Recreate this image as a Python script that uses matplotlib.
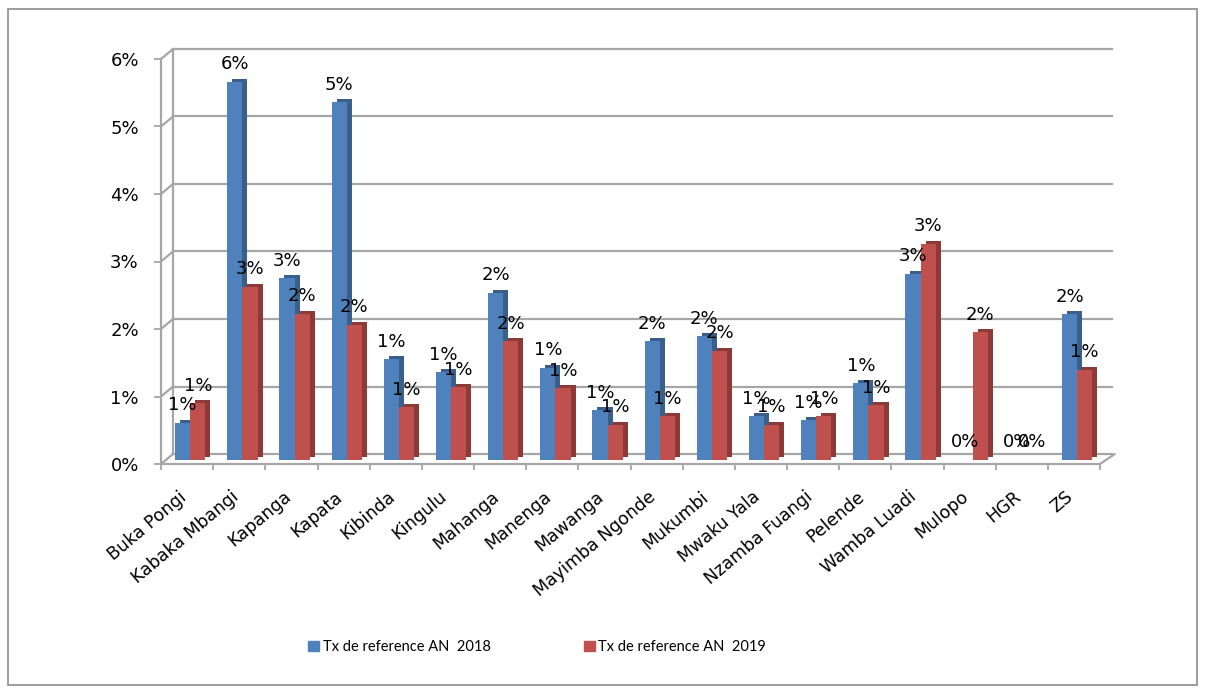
import matplotlib
matplotlib.use('Agg')
import matplotlib.pyplot as plt
import matplotlib.transforms as mtransforms
from matplotlib.patches import Patch, Rectangle
from matplotlib.ticker import PercentFormatter
import numpy as np

plt.rcParams['font.family'] = ['DejaVu Sans']

categories = ['Buka Pongi', 'Kabaka Mbangi', 'Kapanga', 'Kapata', 'Kibinda', 'Kingulu',
              'Mahanga', 'Manenga', 'Mawanga', 'Mayimba Ngonde', 'Mukumbi', 'Mwaku Yala',
              'Nzamba Fuangi', 'Pelende', 'Wamba Luadi', 'Mulopo', 'HGR', 'ZS']
tx_2018 = [0.0055, 0.0560, 0.0269, 0.0530, 0.0149, 0.0130, 0.0248, 0.0137, 0.0074,
           0.0176, 0.0183, 0.0065, 0.0059, 0.0114, 0.0276, 0.0, 0.0, 0.0216]
tx_2019 = [0.0084, 0.0257, 0.0217, 0.0200, 0.0078, 0.0108, 0.0176, 0.0106, 0.0052,
           0.0065, 0.0162, 0.0052, 0.0065, 0.0081, 0.0320, 0.0189, 0.0, 0.0134]
series_labels = ['Tx de reference AN  2018', 'Tx de reference AN  2019']
y_ticks = [0.0, 0.01, 0.02, 0.03, 0.04, 0.05, 0.06]

BLUE, BLUE_SIDE = '#4F81BD', '#3A5F8B'
RED, RED_SIDE = '#C0504D', '#8B3A38'
GRID = '#A6A6A6'

W, H = 1205, 693
fig = plt.figure(figsize=(W / 100, H / 100), dpi=100)
ax = fig.add_axes([161 / W, 1 - 464 / H, 939 / W, 405 / H])
n = len(categories)
ax.set_xlim(-0.5, n - 0.5)
ax.set_ylim(0, 0.06)
for s in ax.spines.values():
    s.set_visible(False)
ax.patch.set_visible(False)


def off(dx, dy):
    return ax.transData + mtransforms.ScaledTranslation(dx / 100, dy / 100, fig.dpi_scale_trans)


BDX, BDY = 12, 10  # back-wall depth in px
for t in y_ticks:
    ax.plot([-0.5, n - 0.5], [t, t], transform=off(BDX, BDY), color=GRID, lw=1.6,
            clip_on=False, zorder=0)
    ax.annotate('', xy=(-0.5, t), xytext=(BDX * 0.72, BDY * 0.72), textcoords='offset points',
                arrowprops=dict(arrowstyle='-', color=GRID, lw=1.6, shrinkA=0, shrinkB=0),
                annotation_clip=False, zorder=0)
ax.plot([-0.5, -0.5], [0, 0.06], color=GRID, lw=1.6, clip_on=False, zorder=0)
ax.plot([-0.5, -0.5], [0, 0.06], transform=off(BDX, BDY), color=GRID, lw=1.6,
        clip_on=False, zorder=0)
ax.plot([-0.5, n - 0.5], [0, 0], color=GRID, lw=1.6, clip_on=False, zorder=1)
ax.annotate('', xy=(n - 0.5, 0), xytext=(BDX * 0.72 + 2, BDY * 0.72), textcoords='offset points',
            arrowprops=dict(arrowstyle='-', color=GRID, lw=1.6, shrinkA=0, shrinkB=0),
            annotation_clip=False, zorder=1)

x = np.arange(n)
w = 0.29
xb = x - 0.085
xr = x + 0.205
PLANE_DY = 4          # bars stand mid-depth on the floor
DDX, DDY = 5, 3       # bar depth
ax.bar(xb, tx_2018, w, color=BLUE_SIDE, transform=off(DDX, PLANE_DY + DDY), zorder=2)
ax.bar(xr, tx_2019, w, color=RED_SIDE, transform=off(DDX, PLANE_DY + DDY), zorder=2)
ax.bar(xb, tx_2018, w, color=BLUE, transform=off(0, PLANE_DY), zorder=3)
ax.bar(xr, tx_2019, w, color=RED, transform=off(0, PLANE_DY), zorder=3)

for xs, vals in ((xb, tx_2018), (xr, tx_2019)):
    for xi, v in zip(xs, vals):
        ax.annotate(f'{v:.0%}', (xi, v), xytext=(0, 15.5), textcoords='offset points',
                    ha='center', va='center', fontsize=13, color='black', zorder=5,
                    annotation_clip=False)

ax.set_yticks(y_ticks)
ax.yaxis.set_major_formatter(PercentFormatter(1.0, decimals=0))
ax.tick_params(axis='y', length=5, width=1.3, color=GRID, pad=11, labelsize=13)

ax.set_xticks(x)
ax.set_xticklabels(categories, rotation=40, ha='right', va='center', rotation_mode='anchor',
                   fontsize=12.5)
ax.tick_params(axis='x', which='major', length=0, pad=22)
ax.set_xticks(np.arange(n + 1) - 0.5, minor=True)
ax.tick_params(axis='x', which='minor', length=4.5, width=1.3, color=GRID)
for lbl in ax.get_xticklabels():
    lbl.set_transform(lbl.get_transform() + mtransforms.ScaledTranslation(-3 / 100, 0, fig.dpi_scale_trans))

fig.legend(handles=[Patch(color=BLUE), Patch(color=RED)], labels=series_labels,
           loc='center', bbox_to_anchor=(537 / W, 1 - 647 / H), ncol=2, frameon=False,
           handlelength=0.75, handleheight=0.75, handletextpad=0.25, columnspacing=6.4,
           prop={'family': 'Lato', 'size': 10.5})

fig.add_artist(Rectangle((8 / W, 1 - 685 / H), (1197 - 8) / W, (685 - 9) / H,
                         transform=fig.transFigure, fill=False, edgecolor='#8C8C8C', lw=1.2))

fig.savefig('out.png', dpi=100)
